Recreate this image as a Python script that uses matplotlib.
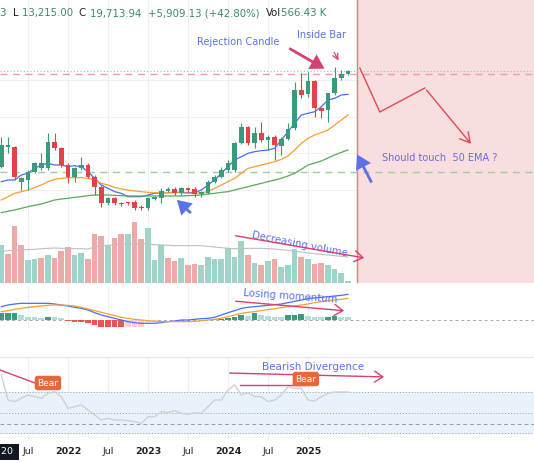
import matplotlib
matplotlib.use("Agg")
import matplotlib.pyplot as plt
import numpy as np

# ---- data (monthly, Mar 2021 .. Jul 2025) ----
opens  = [500,440,440,545,540,515,505,505,425,445,495,530,505,495,530,560,610,595,608,607,605,620,625,597,595,572,568,580,565,568,582,578,545,530,510,510,428,380,430,400,420,410,437,418,385,270,283,243,325,330,280,233,222]
closes = [435,435,530,535,515,490,490,425,445,495,530,505,495,530,560,610,595,610,612,610,625,625,595,592,572,568,580,565,570,583,577,545,530,510,490,428,380,430,400,420,410,435,418,388,270,285,243,325,332,280,233,222,213]
highs  = [410,410,438,530,510,485,460,400,400,440,490,500,470,490,525,555,590,590,605,605,600,615,590,588,565,562,560,560,560,562,572,540,525,500,480,425,370,378,380,365,405,405,412,370,245,220,215,240,320,320,200,210,210]
lows   = [505,460,540,570,570,520,510,510,450,500,550,545,510,535,585,620,615,615,617,615,630,630,630,600,610,575,585,585,575,590,590,582,548,535,515,515,432,435,445,425,450,480,465,420,390,295,290,350,355,365,285,240,225]
ema_fast = [545,540,540,525,520,505,495,490,495,495,500,497,500,515,535,555,565,575,580,590,590,590,585,580,578,578,577,577,578,578,570,555,540,520,500,480,470,460,455,452,450,445,420,395,370,345,340,335,320,300,295,285,283]
ema_mid  = [600,590,580,575,570,563,555,545,538,535,533,533,533,535,540,550,555,562,567,570,573,575,577,578,578,578,578,578,580,580,578,575,565,555,545,535,520,505,500,495,490,485,478,468,450,430,415,405,398,390,375,360,345]
ema_slow = [638,634,630,625,620,616,612,606,600,597,595,592,590,587,585,585,585,586,587,588,588,588,588,588,588,588,588,588,587,586,585,582,580,577,575,570,565,560,555,550,545,540,535,528,520,508,495,489,483,474,465,457,450]
volume   = [113,88,171,113,70,73,75,83,75,95,108,85,90,71,148,141,115,135,148,148,188,131,165,70,115,75,66,76,55,58,55,78,71,72,105,78,126,83,61,53,65,71,48,55,101,78,71,58,61,55,41,30,5]
vol_up   = [1,0,0,0,1,1,0,1,0,0,0,1,1,0,0,0,1,0,0,1,0,0,1,1,1,0,0,1,0,0,1,1,1,1,1,1,1,0,1,0,1,0,1,1,1,0,1,0,0,1,1,1,1]
vol_ma   = [95,97,98,99,100,101,103,104,105,104,104,103,103,102,108,112,113,115,116,117,118,118,117,115,114,113,112,112,112,112,112,110,108,106,104,103,103,104,104,104,103,102,100,98,95,93,90,88,86,84,82,80,78]
hist     = [20,20,22,15,8,8,7,10,8,5,-3,-5,-7,-10,-15,-20,-22,-22,-22,-22,-22,-20,-5,-3,-1,0,1,1,0,1,1,1,2,4,6,10,15,12,20,15,12,10,10,15,15,18,12,10,10,10,12,10,8]
hist_col = ['#3d9a7f','#3d9a7f','#3d9a7f','#b2dfdb','#b2dfdb','#b2dfdb','#b2dfdb','#3d9a7f','#b2dfdb','#b2dfdb','#ef5350','#ef5350','#ef5350','#ef5350','#ef5350','#ef5350','#ef5350','#ef5350','#ef5350','#ffcdd2','#ffcdd2','#ffcdd2','#ffcdd2','#ffcdd2','#b2dfdb','#b2dfdb','#3d9a7f','#3d9a7f','#b2dfdb','#3d9a7f','#3d9a7f','#3d9a7f','#3d9a7f','#3d9a7f','#3d9a7f','#3d9a7f','#3d9a7f','#b2dfdb','#3d9a7f','#b2dfdb','#b2dfdb','#b2dfdb','#b2dfdb','#3d9a7f','#3d9a7f','#3d9a7f','#b2dfdb','#b2dfdb','#b2dfdb','#3d9a7f','#3d9a7f','#b2dfdb','#b2dfdb']
macd     = [40,45,48,50,50,50,50,50,48,45,42,38,35,30,22,15,10,5,0,-5,-8,-10,-10,-10,-8,-5,-3,0,0,2,4,5,8,15,22,28,35,38,40,42,44,46,48,52,56,60,64,66,68,70,72,74,77]
signal   = [25,28,32,35,38,40,42,44,45,45,44,42,38,33,28,23,18,13,8,5,2,0,-2,-4,-5,-5,-5,-5,-5,-4,-2,0,2,5,10,15,20,23,25,28,31,34,37,40,42,45,48,52,55,58,60,62,65]
rsi      = [235,160,155,165,175,170,165,180,185,170,135,140,145,130,115,100,105,100,100,98,95,90,110,110,125,122,128,120,117,122,120,140,160,160,190,205,175,182,170,170,155,160,175,200,195,195,160,157,170,180,184,184,184]
year_pos = [10,22,34,46]
year_lbl = ['2022','2023','2024','2025']
jul_pos  = [4,16,28,40]

W, H = 534, 462
fig = plt.figure(figsize=(W/100, H/100), dpi=100)
fig.patch.set_facecolor('white')
n = len(opens); idx = np.arange(n)
x0 = -0.195; x1 = 79.9
GREEN = '#3a9a7c'; RED = '#e2424a'

def ax_at(top, bottom):
    return fig.add_axes([0, 1-bottom/H, 1, (bottom-top)/H])

def style(ax):
    ax.set_xlim(x0, x1)
    for s in ax.spines.values(): s.set_visible(False)
    ax.set_xticks([]); ax.set_yticks([])
    for p in year_pos + jul_pos:
        ax.axvline(p, color='#efefef', lw=0.8, zorder=0)

def px(x): return (x-1.3)/6.67
def py(y): return 700-3*y

# price panel
ax = ax_at(0, 222); style(ax)
ax.set_ylim(34, 700)
for yy in [460, 350, 240, 130]:
    ax.axhline(yy, color='#f0f0f0', lw=0.8, zorder=0)
ax.axvspan(px(357), x1, color='#f8dede', zorder=0)
ax.axvline(px(357), color='#ee7a80', lw=1)
ax.axhline(700-213, color='#9bc59b', lw=0.8, ls=(0,(1,2)))
ax.axhline(700-222, color='#f09ab0', lw=1, ls=(0,(5,4)))
ax.axhline(700-515, color='#9ccf9c', lw=1, ls=(0,(5,4)))
o = 700-np.array(opens); c = 700-np.array(closes); hi = 700-np.array(highs); lo = 700-np.array(lows)
cols = [GREEN if cc >= oo else RED for oo, cc in zip(o, c)]
ax.vlines(idx, lo, hi, colors=cols, lw=0.8, zorder=3)
ax.bar(idx, np.maximum(np.abs(c-o), 2), bottom=np.minimum(o, c), width=0.7, color=cols, zorder=4)
ax.plot(idx, 700-np.array(ema_fast), color='#4a6ef0', lw=0.9, zorder=2)
ax.plot(idx, 700-np.array(ema_mid), color='#f5a035', lw=0.9, zorder=2)
ax.plot(idx, 700-np.array(ema_slow), color='#5aaa5a', lw=0.9, zorder=2)

ax.text(px(238), py(42), 'Rejection Candle', color='#5b72e8', fontsize=7, ha='center', va='center')
ax.text(px(322), py(35), 'Inside Bar', color='#5b72e8', fontsize=7, ha='center', va='center')
ax.text(px(440), py(158), 'Should touch  50 EMA ?', color='#6a6ae0', fontsize=7, ha='center', va='center')
ax.annotate('', xy=(px(327), py(70)), xytext=(px(287), py(47)),
            arrowprops=dict(arrowstyle='simple,head_width=1.2,head_length=1', color='#d9406f', lw=0))
ax.annotate('', xy=(px(340), py(63)), xytext=(px(333), py(50)),
            arrowprops=dict(arrowstyle='->', color='#d9406f', lw=0.9))
ax.plot([px(360), px(380), px(425)], [py(68), py(112), py(88)], color='#e04a55', lw=1)
ax.annotate('', xy=(px(473), py(146)), xytext=(px(425), py(88)),
            arrowprops=dict(arrowstyle='->,head_width=0.4,head_length=0.7', color='#e04a55', lw=1))
ax.annotate('', xy=(px(175), py(198)), xytext=(px(193), py(215)),
            arrowprops=dict(arrowstyle='simple,head_width=1.2,head_length=1', color='#5a72e8', lw=0))
ax.annotate('', xy=(px(356), py(152)), xytext=(px(373), py(185)),
            arrowprops=dict(arrowstyle='simple,head_width=1.2,head_length=1', color='#5a72e8', lw=0))

# header
parts = [('3  ', '#3a8a6c'), ('L ', '#222222'), ('13,215.00  ', '#3a8a6c'), ('C ', '#222222'),
         ('19,713.94  +5,909.13 (+42.80%)  ', '#3a8a6c'), ('Vol', '#222222'), ('566.43 K', '#3a8a6c')]
xcur = 0
for s, col in parts:
    tt = fig.text(xcur/W, 1-13/H, s, color=col, fontsize=7.3, va='center')
    fig.canvas.draw()
    xcur += tt.get_window_extent().width

# volume panel
axv = ax_at(222, 283); style(axv)
axv.set_ylim(0, 183)
axv.axvspan(px(357), x1, color='#f8dede', zorder=0)
axv.axvline(px(357), color='#ee7a80', lw=1)
axv.bar(idx, volume, width=0.85, color=['#9fd4c8' if u else '#eeaaa6' for u in vol_up], zorder=2)
axv.plot(idx, vol_ma, color='#c0c0c0', lw=0.8, zorder=3)
axv.text(px(300), 115, 'Decreasing volume', color='#5b72e8', fontsize=7.3, rotation=-11, ha='center', va='center')
axv.annotate('', xy=(px(367), 188-3*(258-220)), xytext=(px(233), 188-3*(235-220)),
             arrowprops=dict(arrowstyle='->,head_width=0.4,head_length=0.6', color='#d9406f', lw=1))

# MACD panel
axm = ax_at(285, 328); style(axm)
axm.set_ylim(-24, 105)
axm.axhline(0, color='#aaaaaa', lw=0.7, ls=(0,(3,3)))
axm.bar(idx, hist, width=0.85, color=hist_col, zorder=2)
axm.plot(idx, macd, color='#4a6ef0', lw=0.9, zorder=3)
axm.plot(idx, signal, color='#f5a035', lw=0.9, zorder=3)
axm.text(px(290), 300-3*(296-220), 'Losing momentum', color='#5b72e8', fontsize=7.3, rotation=-4, ha='center', va='center')
axm.annotate('', xy=(px(347), 300-3*(311-220)), xytext=(px(233), 300-3*(301-220)),
             arrowprops=dict(arrowstyle='->,head_width=0.4,head_length=0.6', color='#d9406f', lw=1))

# separator
fig.add_artist(plt.Line2D([0, 1], [1-357/H, 1-357/H], color='#e8e8e8', lw=0.8))

# RSI panel
axr = ax_at(358, 440); style(axr)
axr.set_ylim(40, 286)
axr.axhspan(60, 183, color='#e8f2fb', zorder=0)
for yy, ls in [(183, (0,(1,2))), (120, (0,(1,2))), (60, (0,(1,2))), (88, (0,(4,3)))]:
    axr.axhline(yy, color='#9a9a9a', lw=0.7, ls=ls)
axr.plot(idx, rsi, color='#d0d0d0', lw=1, zorder=3)
def ry(y): return 700-3*(y-220)
axr.text(px(313), ry(367), 'Bearish Divergence', color='#5b72e8', fontsize=7.5, ha='center', va='center')
axr.annotate('', xy=(px(387), ry(377)), xytext=(px(227), ry(373)),
             arrowprops=dict(arrowstyle='->,head_width=0.4,head_length=0.6', color='#d9406f', lw=1))
axr.plot([px(240), px(305)], [ry(385), ry(385)], color='#d9406f', lw=1)
axr.plot([px(0), px(35)], [ry(370), ry(383)], color='#d9406f', lw=1)
for bx, by in [(48, 383), (306, 379)]:
    axr.text(px(bx), ry(by), 'Bear', color='white', fontsize=6.5, ha='center', va='center', zorder=5,
             bbox=dict(boxstyle='round,pad=0.3', fc='#e8673c', ec='none'))

# time axis
for p, lbl in zip(year_pos, year_lbl):
    fig.text((1.3+6.67*p)/W, 1-452/H, lbl, fontsize=6.8, fontweight='bold',
             ha='center', va='center', color='#222222')
for p in jul_pos:
    fig.text((1.3+6.67*p)/W, 1-452/H, 'Jul', fontsize=6.8, ha='center', va='center', color='#222222')
fig.text(1/W, 1-452/H, '20 ', fontsize=6.8, ha='left', va='center', color='white',
         bbox=dict(boxstyle='square,pad=0.35', fc='#131722', ec='none'))

fig.savefig('out.png', dpi=100)
